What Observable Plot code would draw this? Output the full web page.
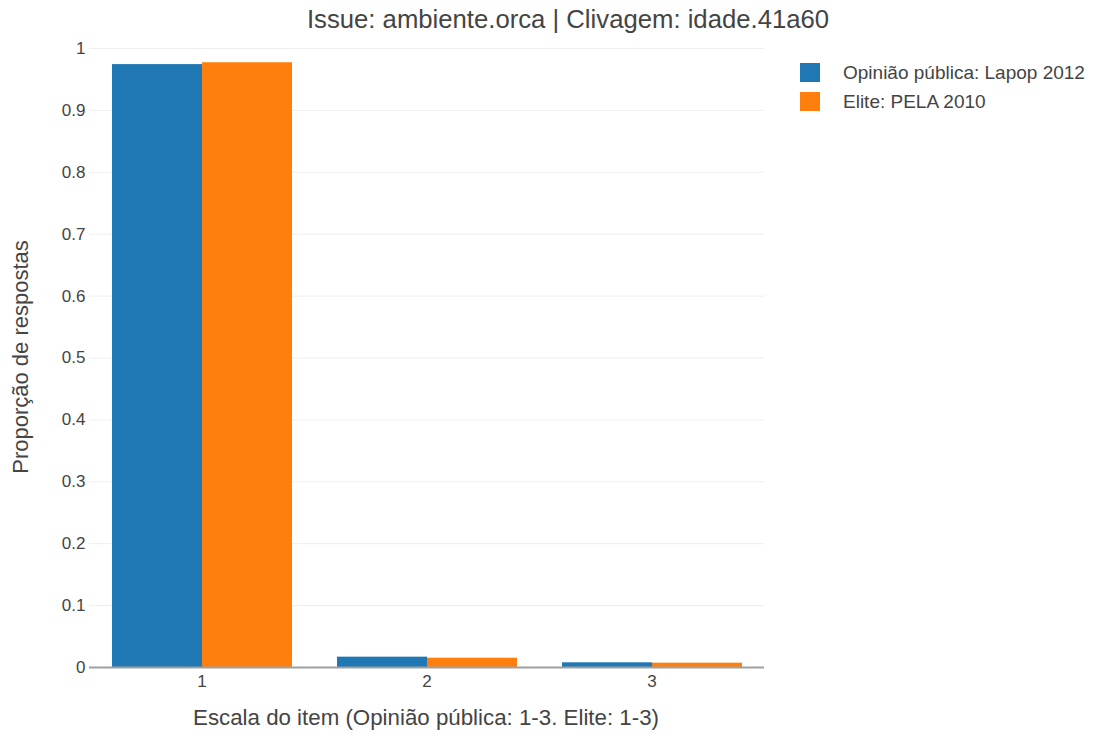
<!DOCTYPE html>
<html><head><meta charset="utf-8">
<script src="https://cdn.jsdelivr.net/npm/d3@7"></script>
<script src="https://cdn.jsdelivr.net/npm/@observablehq/plot@0.6"></script>
<style>
body{margin:0;background:#fff;font-family:"Liberation Sans",Arial,sans-serif;color:#444}
#wrap{position:relative;width:1095px;height:734px;overflow:hidden}
#wrap svg{position:absolute;left:0;top:0}
.ov{position:absolute;white-space:nowrap;color:#444;line-height:1}
#title{font-size:25.7px;left:568px;top:20px;transform:translate(-50%,-50%)}
#xt{font-size:22.3px;left:426px;top:718px;transform:translate(-50%,-50%)}
#yt{font-size:22px;left:21px;top:357px;transform:translate(-50%,-50%) rotate(-90deg)}
.lg{position:absolute;left:800px;font-size:19px;display:flex;align-items:center;line-height:1}
.lg span.sw{display:inline-block;width:20px;height:19px;margin-right:23px}
</style></head><body><div id="wrap"></div>
<script>
const categories = ["1", "2", "3"];
const series = ["Opinião pública: Lapop 2012", "Elite: PELA 2010"];
const lapop = [0.974, 0.0167, 0.0076];
const pela = [0.977, 0.015, 0.007];
const yTicks = [0, 0.1, 0.2, 0.3, 0.4, 0.5, 0.6, 0.7, 0.8, 0.9, 1];
const colors = ["#1f77b4", "#ff7f0e"];
const title = "Issue: ambiente.orca | Clivagem: idade.41a60";
const xTitle = "Escala do item (Opinião pública: 1-3. Elite: 1-3)";
const yTitle = "Proporção de respostas";

const data = categories.flatMap((c, i) => [
  {cat: c, s: series[0], v: lapop[i]},
  {cat: c, s: series[1], v: pela[i]}
]);

const plot = Plot.plot({
  width: 1095, height: 734,
  marginLeft: 88, marginRight: 330, marginTop: 48, marginBottom: 67,
  style: {fontFamily: '"Liberation Sans", Arial, sans-serif', fontSize: "17px", color: "#444", background: "transparent"},
  fx: {domain: categories, padding: 0, label: null},
  x: {domain: series, paddingInner: 0, paddingOuter: 0.25, axis: null},
  y: {domain: [0, 1], label: null},
  color: {domain: series, range: colors},
  marks: [
    Plot.gridY(yTicks, {stroke: "#eee", strokeOpacity: 1, strokeWidth: 1}),
    Plot.barY(data, {fx: "cat", x: "s", y: "v", fill: "s"}),
    Plot.ruleY([0], {stroke: "#a0a0a0", strokeWidth: 2}),
    Plot.axisY(yTicks, {tickSize: 0, tickPadding: 4, tickFormat: d => String(d), label: null, fill: "#444"}),
    Plot.axisFx({anchor: "bottom", tickSize: 0, tickPadding: 7, label: null, fill: "#444"})
  ]
});

const wrap = document.getElementById("wrap");
wrap.appendChild(plot);
const add = (id, txt) => { const d = document.createElement("div"); d.className = "ov"; d.id = id; d.textContent = txt; wrap.appendChild(d); };
add("title", title);
add("xt", xTitle);
add("yt", yTitle);
const cs = plot.scale("color");
series.forEach((s, i) => {
  const d = document.createElement("div");
  d.className = "lg";
  d.style.top = (63 + i * 29) + "px";
  const sw = document.createElement("span");
  sw.className = "sw";
  sw.style.background = cs.apply(s);
  const t = document.createElement("span");
  t.textContent = s;
  d.appendChild(sw); d.appendChild(t);
  wrap.appendChild(d);
});
</script></body></html>
